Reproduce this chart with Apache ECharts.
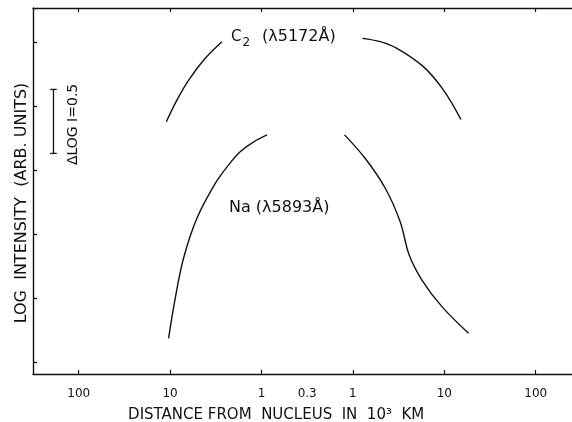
<!DOCTYPE html>
<html>
<head>
<meta charset="utf-8">
<script src="https://cdn.jsdelivr.net/npm/echarts@6/dist/echarts.min.js"></script>
<style>
  html, body { margin: 0; padding: 0; background: #fff; }
  #chart { width: 572px; height: 422px; }
</style>
</head>
<body>
<div id="chart"></div>
<script>
// Brightness profiles along the comet axis, on both sides of the nucleus.
// Distances in 10^3 km, intensities as log I (arbitrary zero point).
const c2LeftDist  = [11.0, 8.42, 6.18, 4.13, 2.71];
const c2LeftLogI  = [1.883, 2.052, 2.213, 2.378, 2.508];
const c2RightDist = [1.27, 1.99, 3.03, 5.9, 9.8, 15.2];
const c2RightLogI = [2.534, 2.508, 2.456, 2.313, 2.130, 1.901];
const naLeftDist  = [0.87, 1.23, 1.71, 2.31, 3.29, 5.09, 7.13, 8.79, 10.4];
const naLeftLogI  = [1.780, 1.724, 1.648, 1.542, 1.388, 1.128, 0.816, 0.503, 0.191];
const naRightDist = [0.81, 1.36, 2.26, 3.29, 4.13, 5.69, 9.42, 18.4];
const naRightLogI = [1.780, 1.597, 1.363, 1.102, 0.841, 0.646, 0.438, 0.230];

// Distance axis: mirrored log scale, both halves meeting at D_CENTER.
const D_CENTER = Math.pow(10, -0.5);
const tickDist   = [100, 10, 1, 1, 10, 100];
const tickSide   = [-1, -1, -1, 1, 1, 1];
const tickText   = ['100', '10', '1', '1', '10', '100'];
const centerText = '0.3';
const logTicks   = [0, 0.5, 1, 1.5, 2, 2.5];
const scaleBarStep = 0.5;   // ΔLOG I

function toAxis(side, d) {
  return side * (Math.log10(d) - Math.log10(D_CENTER));
}
function branch(side, dist, logI) {
  return dist.map((d, i) => [toAxis(side, d), logI[i]]);
}

const tickPos = tickDist.map((d, i) => toAxis(tickSide[i], d));
const labelPos = tickPos.concat([0]);
function labelFor(v) {
  if (Math.abs(v) < 1e-6) return centerText;
  for (let i = 0; i < tickPos.length; i++) {
    if (Math.abs(tickPos[i] - v) < 1e-6) return tickText[i];
  }
  return '';
}

const FONT = 'DejaVu Sans';
const INK = '#111';

const lineStyleCommon = { color: INK, width: 1.4 };
function curve(name, data) {
  return {
    name: name, type: 'line', data: data, smooth: 0.35,
    showSymbol: false, symbol: 'none', silent: true,
    lineStyle: lineStyleCommon, itemStyle: { color: INK }
  };
}

const chart = echarts.init(document.getElementById('chart'), null, { renderer: 'canvas' });

chart.setOption({
  backgroundColor: '#fff',
  animation: false,
  grid: { left: 33, top: 8, right: -9.4, bottom: 48, containLabel: false, outerBoundsMode: 'none' },
  xAxis: [
    {
      type: 'value', position: 'bottom', min: -3, max: 3,
      axisLine: { show: true, onZero: false, lineStyle: { color: INK, width: 1.4 } },
      axisTick: { show: true, inside: true, length: 4, customValues: tickPos, lineStyle: { color: INK, width: 1.2 } },
      axisLabel: {
        show: true, customValues: labelPos, formatter: labelFor, margin: 14,
        color: INK, fontFamily: FONT, fontSize: 12
      },
      splitLine: { show: false },
      name: 'DISTANCE FROM  NUCLEUS  IN  10³  KM',
      nameLocation: 'middle', nameGap: 34, nameMoveOverlap: false,
      nameTextStyle: { color: INK, fontFamily: FONT, fontSize: 15, padding: [0, 62, 0, 0] }
    },
    {
      type: 'value', position: 'top', min: -3, max: 3,
      axisLine: { show: true, onZero: false, lineStyle: { color: INK, width: 1.4 } },
      axisTick: { show: true, inside: true, length: 4, customValues: tickPos, lineStyle: { color: INK, width: 1.2 } },
      axisLabel: { show: false },
      splitLine: { show: false }
    }
  ],
  yAxis: {
    type: 'value', min: -0.088, max: 2.771,
    axisLine: { show: true, onZero: false, lineStyle: { color: INK, width: 1.4 } },
    axisTick: { show: true, inside: true, length: 4, customValues: logTicks, lineStyle: { color: INK, width: 1.2 } },
    axisLabel: { show: false },
    splitLine: { show: false },
    name: 'LOG  INTENSITY  (ARB. UNITS)',
    nameLocation: 'middle', nameGap: 3, nameRotate: 90, nameMoveOverlap: false,
    nameTextStyle: { color: INK, fontFamily: FONT, fontSize: 16, padding: [0, 24, 0, 0] }
  },
  series: [
    curve('C2 left', branch(-1, c2LeftDist, c2LeftLogI)),
    curve('C2 right', branch(1, c2RightDist, c2RightLogI)),
    curve('Na left', branch(-1, naLeftDist, naLeftLogI)),
    curve('Na right', branch(1, naRightDist, naRightLogI)),
    {
      // vertical scale bar of one ΔLOG I step
      name: 'scale', type: 'custom', silent: true,
      data: [[-2.776, 1.635]],
      renderItem: function (params, api) {
        const p0 = api.coord([api.value(0), api.value(1)]);
        const p1 = api.coord([api.value(0), api.value(1) + scaleBarStep]);
        const cap = 3.3;
        const st = { stroke: INK, lineWidth: 1.3 };
        return {
          type: 'group',
          children: [
            { type: 'line', shape: { x1: p0[0], y1: p0[1], x2: p1[0], y2: p1[1] }, style: st },
            { type: 'line', shape: { x1: p0[0] - cap, y1: p0[1], x2: p0[0] + cap, y2: p0[1] }, style: st },
            { type: 'line', shape: { x1: p1[0] - cap, y1: p1[1], x2: p1[0] + cap, y2: p1[1] }, style: st },
            {
              type: 'text', x: p0[0] + 20, y: (p0[1] + p1[1]) / 2 + 3, rotation: Math.PI / 2,
              style: {
                text: 'ΔLOG I=' + scaleBarStep, fill: INK, font: '14px "' + FONT + '"',
                align: 'center', verticalAlign: 'middle'
              }
            }
          ]
        };
      }
    }
  ],
  graphic: [
    { type: 'text', left: 231, top: 29.5, style: { text: 'C', fill: INK, font: '15px "' + FONT + '"' } },
    { type: 'text', left: 242.5, top: 37, style: { text: '2', fill: INK, font: '12px "' + FONT + '"' } },
    { type: 'text', left: 262, top: 28.5, style: { text: '(λ5172Å)', fill: INK, font: '16px "' + FONT + '"' } },
    { type: 'text', left: 229, top: 200, style: { text: 'Na (λ5893Å)', fill: INK, font: '16px "' + FONT + '"' } }
  ]
});
</script>
</body>
</html>
